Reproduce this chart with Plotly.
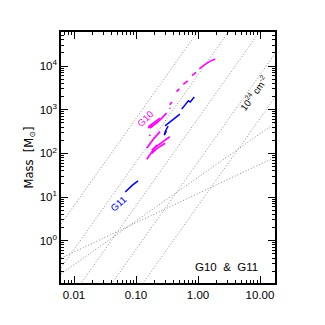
import numpy as np
import plotly.graph_objects as go

# --- data ------------------------------------------------------------------
# constant column density lines: log10 M at r = 1 pc, slope 2
col_dens_logm1 = [4.8, 3.8, 2.8, 1.8, 0.8]
# two shallow reference relations: (log10 M at 1 pc, slope)
shallow_lines = [(1.45, 1.0), (1.08, 0.67)]

# G10 (magenta) segments: radius [pc], mass [Msun]
g10_r = [
    [1.88, 1.55, 1.25, 1.05],
    [0.93, 0.80],
    [0.68, 0.58],
    [0.50, 0.45],
    [0.38, 0.35],
    [0.35, 0.355],
    [0.31, 0.25, 0.168],
    [0.244, 0.20, 0.158],
    [0.229, 0.19, 0.158],
    [0.17, 0.165],
    [0.244, 0.19, 0.149],
    [0.35, 0.25, 0.179],
    [0.294, 0.22, 0.179],
    [0.216, 0.18, 0.149],
]
g10_m = [
    [14500, 12800, 10500, 8600],
    [7200, 6000],
    [4600, 3800],
    [3000, 2600],
    [1500, 1300],
    [1050, 1100],
    [835, 600, 380],
    [640, 520, 410],
    [535, 450, 380],
    [270, 250],
    [315, 210, 131],
    [240, 170, 120],
    [170, 130, 100],
    [156, 105, 73],
]

# G11 (blue) segments
g11_r = [
    [0.067, 0.075, 0.085, 0.095, 0.108],
    [0.87, 0.75, 0.70, 0.62, 0.546],
    [0.51, 0.40, 0.294],
    [0.33, 0.30, 0.285],
    [0.31, 0.29],
]
g11_m = [
    [13, 15.5, 18, 20.5, 23.5],
    [1950, 1500, 1600, 1250, 1030],
    [790, 600, 427],
    [420, 330, 260],
    [330, 270],
]

x_ticks = [0.01, 0.1, 1, 10]
x_ticktext = ["0.01", "0.10", "1.00", "10.00"]
y_ticks = [1, 10, 100, 1000, 10000]
y_ticktext = ["10<sup>0</sup>", "10<sup>1</sup>", "10<sup>2</sup>",
              "10<sup>3</sup>", "10<sup>4</sup>"]

XR = [-2.21, 1.242]
YR = [-0.97, 4.78]

fig = go.Figure()

dotted = dict(color="#8a8a8a", width=1, dash="1px,2px")
r_end = np.array([10 ** XR[0], 10 ** XR[1]])
for c in col_dens_logm1:
    fig.add_trace(go.Scatter(x=r_end, y=10 ** (c + 2 * np.log10(r_end)),
                             mode="lines", line=dotted,
                             hoverinfo="skip", showlegend=False))
for c, s in shallow_lines:
    fig.add_trace(go.Scatter(x=r_end, y=10 ** (c + s * np.log10(r_end)),
                             mode="lines", line=dotted,
                             hoverinfo="skip", showlegend=False))

for r, m in zip(g10_r, g10_m):
    fig.add_trace(go.Scatter(x=r, y=m, mode="lines",
                             line=dict(color="#ff00ff", width=1.6), showlegend=False))
for r, m in zip(g11_r, g11_m):
    fig.add_trace(go.Scatter(x=r, y=m, mode="lines",
                             line=dict(color="#0000ff", width=1.5), showlegend=False))

font = "Liberation Sans, Arial, sans-serif"
narrow = "Liberation Sans Narrow, Liberation Sans, sans-serif"
axis_common = dict(
    type="log", showgrid=False, zeroline=False,
    showline=True, linecolor="black", linewidth=1.5, mirror="ticks",
    ticks="inside", ticklen=7, tickwidth=1, tickcolor="black",
    minor=dict(ticks="inside", ticklen=3.5, tickwidth=1, tickcolor="black",
               dtick="D1"),
)

# page body has an 8px margin, so the figure is 317px and offsets shrink by 8
fig.update_layout(
    width=317, height=317,
    margin=dict(l=53, r=50, t=24, b=42),
    plot_bgcolor="white", paper_bgcolor="white",
    xaxis=dict(range=XR, tickvals=x_ticks, ticktext=x_ticktext,
               tickfont=dict(family=narrow, size=11.5, color="black"),
               **axis_common),
    yaxis=dict(range=YR, tickvals=y_ticks, ticktext=y_ticktext,
               tickfont=dict(family=font, size=11.5, color="black"),
               title=dict(text="Mass  [M<sub>⊙</sub>]", standoff=4,
                          font=dict(family="DejaVu Sans, sans-serif", size=11.5,
                                    color="black")),
               **axis_common),
    font=dict(family=font),
    annotations=[
        dict(x=0.463, y=-0.6, xref="x", yref="y", text="G10  &amp;  G11",
             showarrow=False, font=dict(family=font, size=11.5, color="black")),
        dict(x=-0.85, y=2.8, xref="x", yref="y", text="G10", textangle=-45,
             showarrow=False, font=dict(family=font, size=9.5, color="#ff00ff")),
        dict(x=-1.28, y=0.84, xref="x", yref="y", text="G11", textangle=-42,
             showarrow=False, font=dict(family=font, size=9.5, color="#0000ff")),
        dict(x=0.9, y=3.38, xref="x", yref="y",
             text="10<sup>24</sup> cm<sup>-2</sup>", textangle=-54,
             showarrow=False, font=dict(family=font, size=9.5, color="black")),
    ],
)

fig.write_html("out.html")
